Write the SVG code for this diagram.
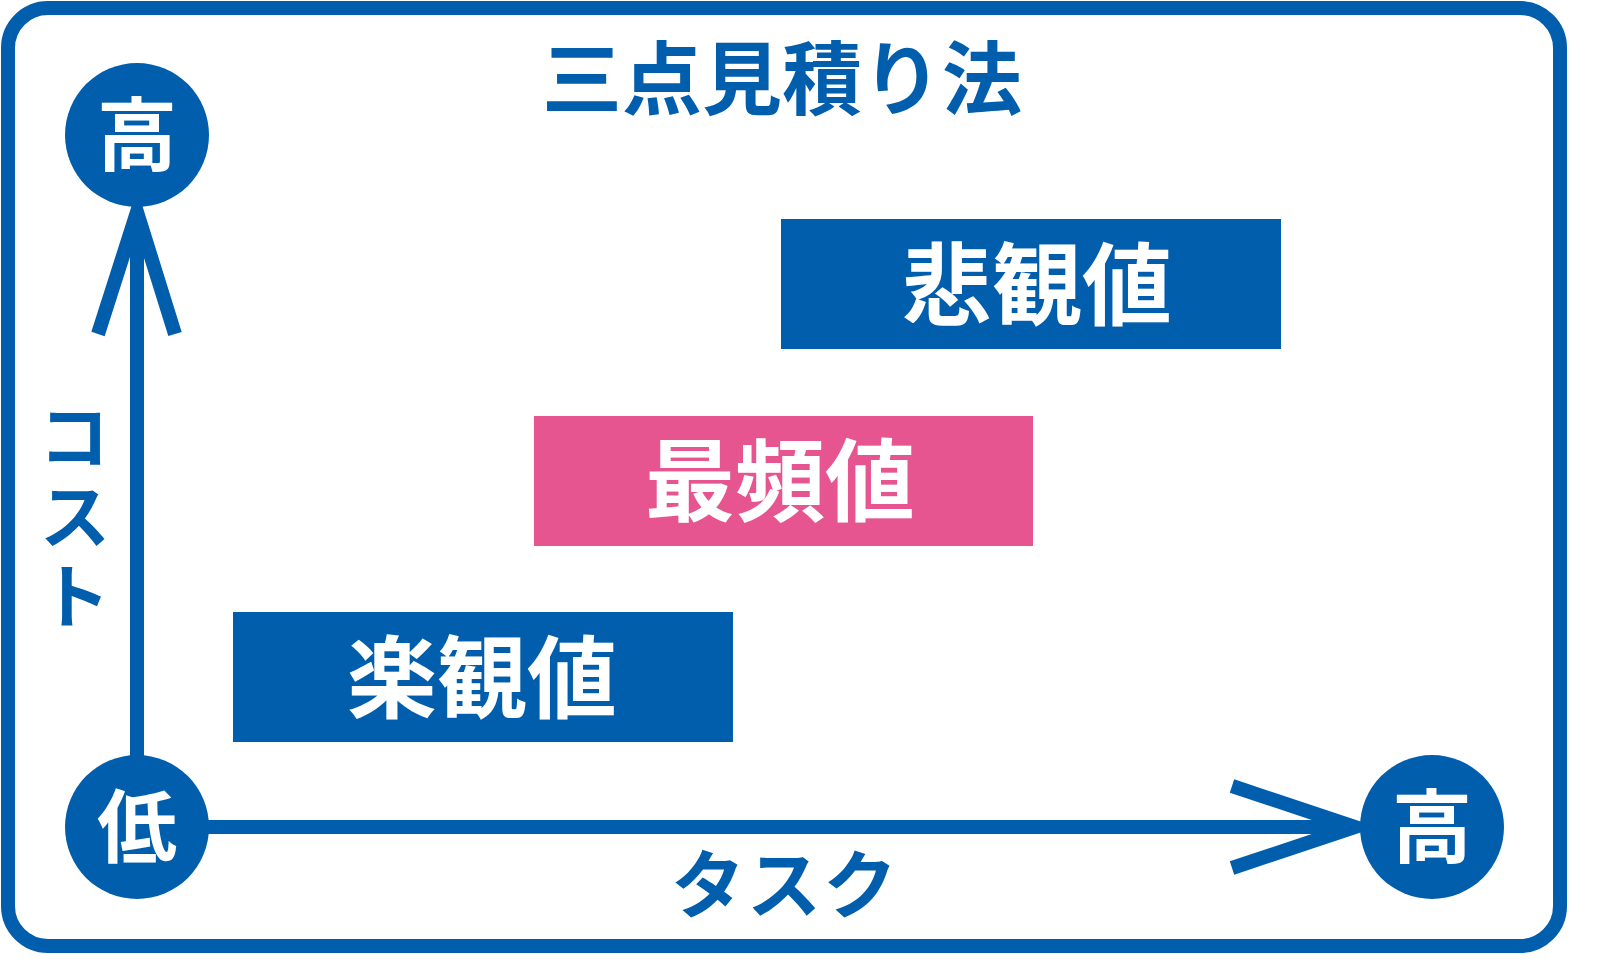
<svg xmlns="http://www.w3.org/2000/svg" width="1600" height="974" viewBox="0 0 1600 974">
<style>
.t{font-family:"Noto Sans CJK JP","Noto Sans CJK SC",sans-serif;font-weight:bold;text-anchor:middle}
.w{fill:#fff}
.b{fill:#005EAD}
.ln{stroke:#005EAD;stroke-width:14;fill:none}
</style>
<rect width="1600" height="974" fill="#fff"/>
<rect x="8" y="8" width="1552" height="938" rx="40" class="ln"/>
<text x="782" y="108" class="t b" font-size="80">三点見積り法</text>
<g id="connectors">
<line x1="137" y1="770" x2="137" y2="215" class="ln"/>
<polyline points="98,334 137,212 175,334" class="ln" stroke-width="13"/>
<line x1="200" y1="827" x2="1350" y2="827" class="ln"/>
<polyline points="1232,786 1355,827 1232,868" class="ln" stroke-width="13"/>
</g>
<g id="high-cost"><circle cx="137" cy="135" r="72" class="b"/><text x="137" y="164" class="t w" font-size="80">高</text></g>
<g id="low"><circle cx="137" cy="827" r="72" class="b"/><text x="137" y="856" class="t w" font-size="80">低</text></g>
<g id="high-task"><circle cx="1432" cy="827" r="72" class="b"/><text x="1432" y="856" class="t w" font-size="80">高</text></g>
<text x="75" y="400" class="t b" font-size="72" style="writing-mode:vertical-rl;text-anchor:start" letter-spacing="8">コスト</text>
<text x="785" y="912" class="t b" font-size="74" letter-spacing="2">タスク</text>
<g id="pessimistic"><rect x="781" y="219" width="500" height="130" class="b"/><text x="1037" y="318" class="t w" font-size="90">悲観値</text></g>
<g id="mode"><rect x="534" y="416" width="499" height="130" fill="#E75591"/><text x="780" y="514" class="t w" font-size="90">最頻値</text></g>
<g id="optimistic"><rect x="233" y="612" width="500" height="130" class="b"/><text x="482" y="711" class="t w" font-size="90">楽観値</text></g>
</svg>
